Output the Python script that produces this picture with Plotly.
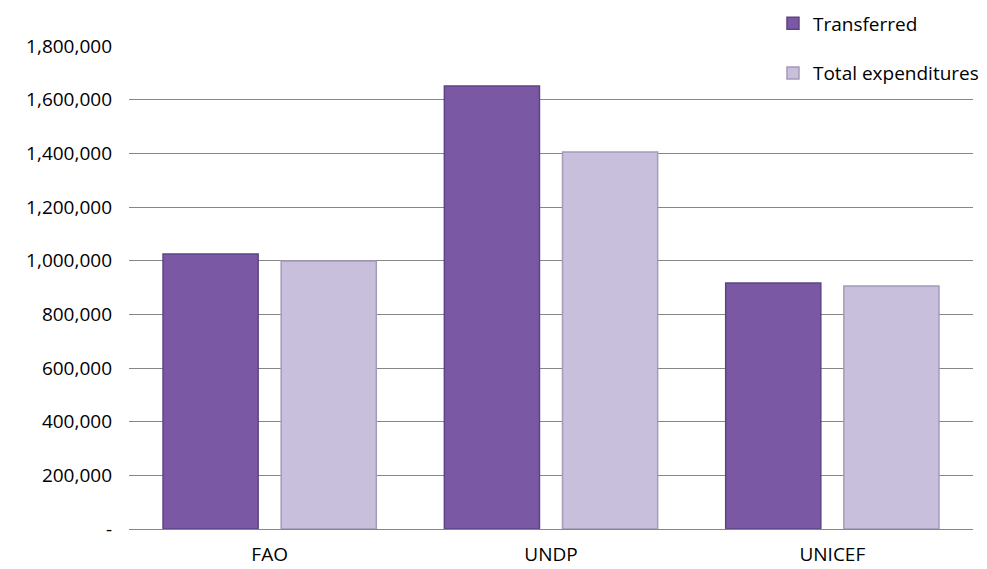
import plotly.graph_objects as go

categories = ["FAO", "UNDP", "UNICEF"]
transferred = [1025000, 1651000, 917000]
total_expenditures = [999000, 1405000, 906000]
tick_vals = [0, 200000, 400000, 600000, 800000, 1000000, 1200000, 1400000, 1600000, 1800000]
tick_text = ["-", "200,000", "400,000", "600,000", "800,000", "1,000,000", "1,200,000", "1,400,000", "1,600,000", "1,800,000"]

font = "Open Sans, Liberation Sans, sans-serif"

fig = go.Figure()
fig.add_trace(go.Bar(
    x=categories, y=transferred, name="Transferred", legendgroup="a",
    marker=dict(color="#7A58A4", line=dict(color="#5E4486", width=1.5)),
))
fig.add_trace(go.Bar(
    x=categories, y=total_expenditures, name="Total expenditures", legendgroup="b",
    marker=dict(color="#C7BFDB", line=dict(color="#A49BB8", width=1.5)),
))

# page body has an 8px margin, so the figure is sized to fit the 987x569 window
fig.update_layout(
    width=979, height=561,
    margin=dict(l=121, r=14, t=38, b=40, autoexpand=False),
    paper_bgcolor="white", plot_bgcolor="white",
    barmode="group", bargap=0.16, bargroupgap=0.195,
    font=dict(family=font, size=19, color="#000000"),
    legend=dict(x=0.763, y=1.086, xanchor="left", yanchor="top",
                font=dict(size=19, family=font), tracegroupgap=22,
                itemwidth=30, bgcolor="rgba(0,0,0,0)"),
    xaxis=dict(showgrid=False, showline=True, linecolor="#868686", linewidth=1,
               ticks="", tickfont=dict(size=19), automargin=False, ticklabelstandoff=8),
    yaxis=dict(range=[0, 1800000], tickvals=tick_vals, ticktext=tick_text,
               showgrid=True, gridcolor="#868686", gridwidth=1,
               zeroline=False, showline=False, ticks="", ticklabelstandoff=16,
               tickfont=dict(size=19), automargin=False),
)

fig.write_html("out.html")
